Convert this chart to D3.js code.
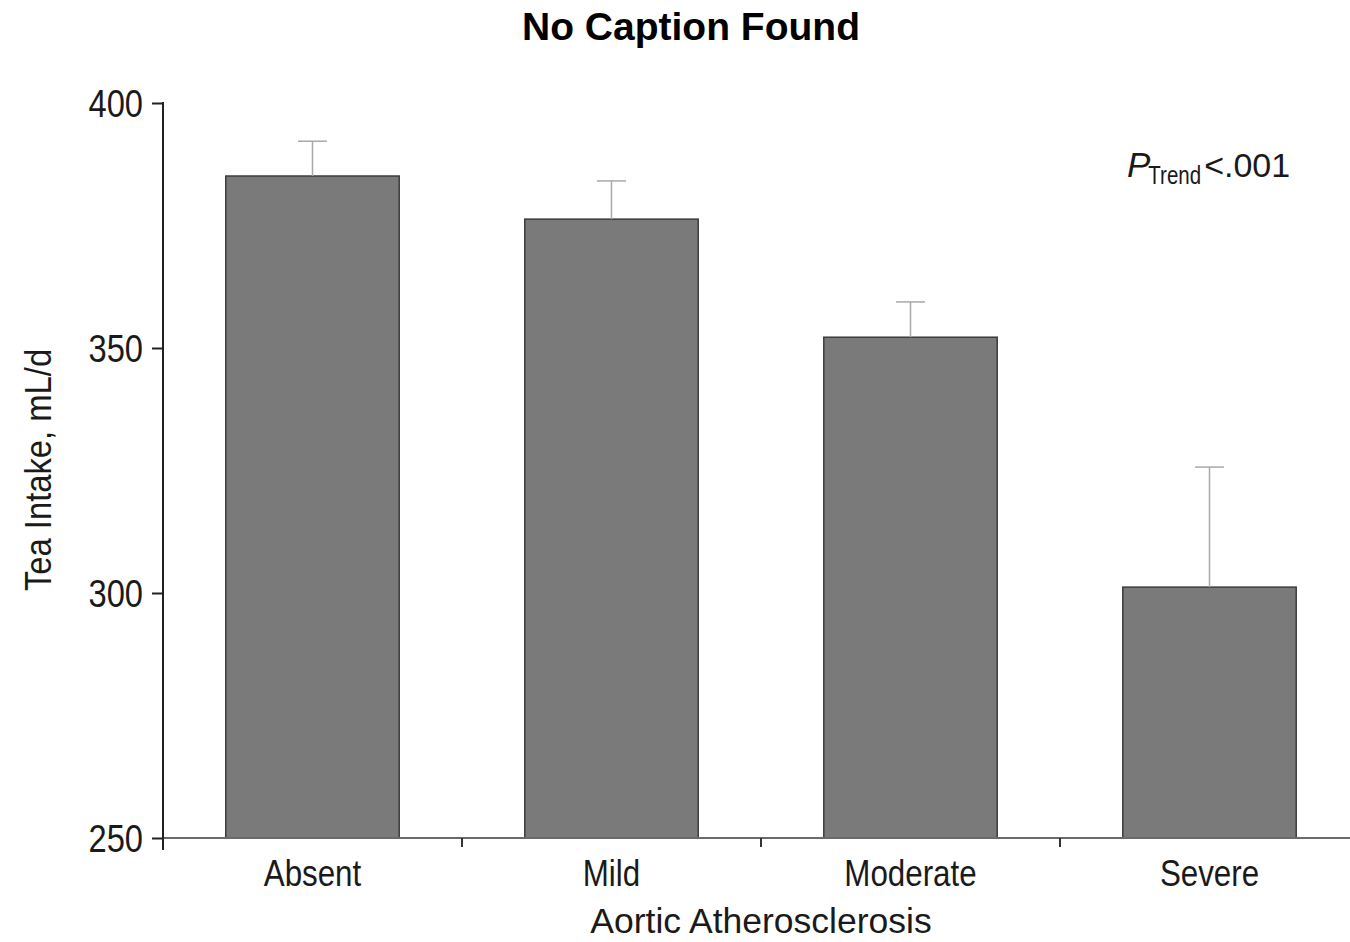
<!DOCTYPE html>
<html>
<head>
<meta charset="utf-8">
<script src="https://cdn.jsdelivr.net/npm/d3@7"></script>
<style>
  html, body { margin: 0; padding: 0; background: #fff; }
  svg { display: block; }
  .cond { font-family: "Liberation Sans", Arial, sans-serif; fill: #1a1a1a; }
</style>
</head>
<body>
<svg id="chart" width="1350" height="942"></svg>
<script>
const categories = ["Absent", "Mild", "Moderate", "Severe"];
const means = [385.1, 376.3, 352.2, 301.2];
const errorTops = [392.2, 384.1, 359.4, 325.7];
const yTicks = [250, 300, 350, 400];

const svg = d3.select("#chart");
const W = 1350, H = 942;

// horizontally condense text by a factor (reference uses a condensed face)
function condense(sel, f) {
  sel.each(function () {
    const len = this.getComputedTextLength();
    d3.select(this).attr("textLength", len * f).attr("lengthAdjust", "spacingAndGlyphs");
  });
}

const x = d3.scaleBand().domain(categories).range([163, 1359]).paddingInner(0.42).paddingOuter(0.21);
const y = d3.scaleLinear().domain([250, 400]).range([838, 103]);

// title
svg.append("text")
  .attr("x", 691).attr("y", 40)
  .attr("text-anchor", "middle")
  .style("font-family", "'Liberation Sans', Arial, sans-serif")
  .style("font-weight", "bold")
  .style("font-size", "39px")
  .style("fill", "#000")
  .text("No Caption Found");

// bars
svg.append("g").selectAll("rect")
  .data(categories)
  .join("rect")
  .attr("x", d => x(d))
  .attr("width", x.bandwidth())
  .attr("y", (d, i) => y(means[i]))
  .attr("height", (d, i) => y(250) - y(means[i]))
  .attr("fill", "#7a7a7a")
  .attr("stroke", "#3c3c3c")
  .attr("stroke-width", 1.5);

// error bars
const eb = svg.append("g").attr("stroke", "#a8a8a8").attr("stroke-width", 1.5);
categories.forEach((c, i) => {
  const cx = x(c) + x.bandwidth() / 2;
  eb.append("line").attr("x1", cx).attr("x2", cx).attr("y1", y(means[i])).attr("y2", y(errorTops[i]));
  eb.append("line").attr("x1", cx - 14.5).attr("x2", cx + 14.5).attr("y1", y(errorTops[i])).attr("y2", y(errorTops[i]));
});

// x axis line
svg.append("line")
  .attr("x1", 163).attr("x2", W).attr("y1", y(250)).attr("y2", y(250))
  .attr("stroke", "#6a6a6a").attr("stroke-width", 2);

// x ticks at band boundaries
const bounds = categories.map(c => x(c) - x.step() * x.paddingInner() / 2).slice(1);
svg.append("g").selectAll("line")
  .data(bounds)
  .join("line")
  .attr("x1", d => d).attr("x2", d => d)
  .attr("y1", y(250)).attr("y2", y(250) + 9)
  .attr("stroke", "#333").attr("stroke-width", 2);

// y axis
const yAxis = d3.axisLeft(y).tickValues(yTicks).tickSize(11).tickPadding(9).tickFormat(d3.format("d"));
const gy = svg.append("g").attr("transform", "translate(163,0)").call(yAxis);
gy.select(".domain").remove();
gy.selectAll(".tick line").attr("stroke", "#222").attr("stroke-width", 2);
gy.selectAll(".tick text")
  .attr("class", "cond")
  .style("font-size", "38px")
  .attr("dy", "0.36em")
  .call(condense, 0.86);
svg.append("line")
  .attr("x1", 163).attr("x2", 163).attr("y1", y(400) - 1).attr("y2", y(250) + 12)
  .attr("stroke", "#222").attr("stroke-width", 2);

// x labels
svg.append("g").selectAll("text")
  .data(categories)
  .join("text")
  .attr("class", "cond")
  .attr("x", d => x(d) + x.bandwidth() / 2)
  .attr("y", 886)
  .attr("text-anchor", "middle")
  .style("font-size", "36px")
  .text(d => d)
  .call(condense, 0.87);

// axis titles
svg.append("text")
  .attr("class", "cond")
  .attr("x", 761).attr("y", 933)
  .attr("text-anchor", "middle")
  .style("font-size", "35.5px")
  .text("Aortic Atherosclerosis");

svg.append("text")
  .attr("class", "cond")
  .attr("transform", "translate(51,470) rotate(-90)")
  .attr("text-anchor", "middle")
  .style("font-size", "36px")
  .text("Tea Intake, mL/d")
  .call(condense, 0.91);

// P trend annotation
const pt = svg.append("g");
const p1 = pt.append("text").attr("class", "cond").attr("x", 1127).attr("y", 177)
  .style("font-style", "italic").style("font-size", "35px").text("P");
const p1w = p1.node().getComputedTextLength();
const p2x = 1127 + p1w - 2;
const trendScale = 0.82;
const p2 = pt.append("text").attr("class", "cond")
  .attr("transform", `translate(${p2x},184) scale(${trendScale},1)`)
  .style("font-size", "25px").text("Trend");
const p2w = p2.node().getComputedTextLength() * trendScale;
pt.append("text").attr("class", "cond").attr("x", p2x + p2w + 3).attr("y", 177)
  .style("font-size", "34px").text("<.001");
</script>
</body>
</html>
